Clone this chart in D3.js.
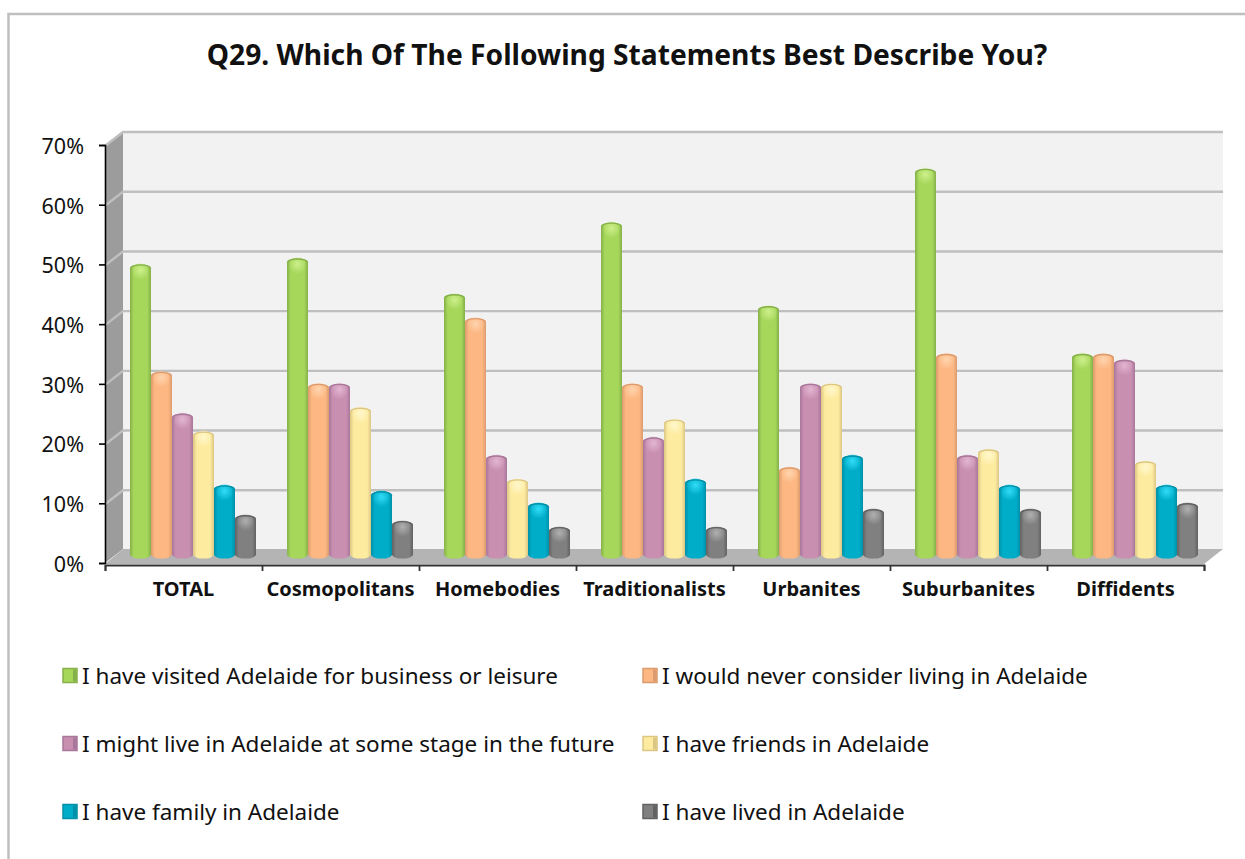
<!DOCTYPE html>
<html><head><meta charset="utf-8">
<script src="https://cdnjs.cloudflare.com/ajax/libs/d3/7.8.5/d3.min.js"></script>
<style>html,body{margin:0;padding:0;background:#fff;overflow:hidden}svg{display:block}text{font-family:"Noto Sans","Open Sans",sans-serif;fill:#111}</style>
</head><body><svg id="c" width="1245" height="859"></svg>
<script>
const titleText = "Q29. Which Of The Following Statements Best Describe You?";
const categories = ["TOTAL","Cosmopolitans","Homebodies","Traditionalists","Urbanites","Suburbanites","Diffidents"];
const seriesNames = ["I have visited Adelaide for business or leisure","I would never consider living in Adelaide","I might live in Adelaide at some stage in the future","I have friends in Adelaide","I have family in Adelaide","I have lived in Adelaide"];
const visited = [49,50,44,56,42,65,34];
const neverLive = [31,29,40,29,15,34,34];
const mightLive = [24,29,17,20,29,17,33];
const friends = [21,25,13,23,29,18,16];
const family = [12,11,9,13,17,12,12];
const lived = [7,6,5,5,8,8,9];
const seriesValues = [visited,neverLive,mightLive,friends,family,lived];
const colours = ["#a6d75b","#fdb782","#c98fb1","#fdeba0","#00adc9","#808080"];
const edgeColours = ["#86b04a","#dc9b6e","#a8779a","#dcc684","#0090a8","#626262"];
const capColours = ["#cdf08c","#ffd4ae","#e2b6d2","#fff8cc","#30dcf6","#b0b0b0"];
const yTicks = [0,10,20,30,40,50,60,70];

const svg = d3.select("#c");
const L=105,R=1204,T=145,B=563,DX=18,DY=-14;
const y = d3.scaleLinear().domain([0,70]).range([B,T]);
const xGroup = d3.scaleBand().domain(categories).range([L,R]);
const xEdge = d3.scaleLinear().domain([0,categories.length]).range([L,R]);
const xBar = d3.scaleBand().domain(d3.range(6)).range([0,126]);
const defs = svg.append("defs");

colours.forEach((c,i)=>{
  const g=defs.append("linearGradient").attr("id","g"+i);
  [[0,edgeColours[i]],[.18,c],[.82,c],[1,edgeColours[i]]].forEach(s=>g.append("stop").attr("offset",s[0]).attr("stop-color",s[1]));
  const h=defs.append("radialGradient").attr("id","h"+i).attr("cx",.5).attr("cy",.4).attr("r",.55);
  h.append("stop").attr("offset",0).attr("stop-color",capColours[i]).attr("stop-opacity",1);
  h.append("stop").attr("offset",1).attr("stop-color",capColours[i]).attr("stop-opacity",0);
});

// frame
svg.append("path").attr("d","M8.5,859V14H1245").attr("fill","none").attr("stroke","#bfbfbf").attr("stroke-width",2.5);

// title
svg.append("text").attr("x",627).attr("y",65).attr("text-anchor","middle").attr("font-size",28.2).attr("font-weight",700).text(titleText);

// walls
svg.append("path").attr("d",`M${L},${y(70)}L${L+DX},${y(70)+DY}H${R+DX+1}V${y(0)+DY}H${L+DX}L${L},${y(0)}Z`).attr("fill","#f2f2f2");
svg.append("path").attr("d",`M${L},${y(70)}L${L+DX},${y(70)+DY}V${y(0)+DY}L${L},${y(0)}Z`).attr("fill","#9c9c9c");
svg.append("path").attr("d",`M${L},${y(0)+1}L${L+DX},${y(0)+DY}H${R+DX+1}L${R},${y(0)+1}Z`).attr("fill","#b4b4b4");

// gridlines
svg.append("g").selectAll("path").data(yTicks.slice(1)).join("path")
  .attr("d",d=>`M${L},${y(d)+1}L${L+DX},${y(d)+DY+1}H${R+DX+1}`)
  .attr("fill","none").attr("stroke","#bfbfbf").attr("stroke-width",2.4);

// bars
const ry=4, baseY=y(0)+DY/2;
const gs=svg.append("g").selectAll("g").data(categories).join("g")
  .attr("transform",d=>`translate(${xGroup(d)+(xGroup.bandwidth()-126)/2+DX/2+.5},0)`);
seriesValues.forEach((vals,i)=>{
  const w=xBar.bandwidth();
  const top=(c)=>y(vals[categories.indexOf(c)])+DY/2+3.5;
  gs.append("path")
    .attr("d",c=>`M${xBar(i)},${top(c)+1.4}A${w/2},${ry} 0 0 1 ${xBar(i)+w},${top(c)+1.4}V${baseY-1.4}A${w/2},${ry} 0 0 1 ${xBar(i)},${baseY-1.4}Z`)
    .attr("fill",`url(#g${i})`);
  gs.append("ellipse")
    .attr("cx",xBar(i)+w/2).attr("cy",c=>top(c)+5).attr("rx",w/2-2).attr("ry",9)
    .attr("fill",`url(#h${i})`);
  gs.append("path")
    .attr("d",c=>`M${xBar(i)+.7},${top(c)+1.4}A${w/2-.7},${ry-.6} 0 0 1 ${xBar(i)+w-.7},${top(c)+1.4}`)
    .attr("fill","none").attr("stroke",edgeColours[i]).attr("stroke-width",1.4);
});

// y axis
const yAxis=svg.append("g").attr("transform",`translate(${L},0)`)
  .call(d3.axisLeft(y).tickValues(yTicks).tickFormat(d=>d+"%").tickSize(6).tickPadding(15));
yAxis.selectAll("path,line").attr("stroke","#000").attr("stroke-width",1.6);
yAxis.attr("font-family",null);
yAxis.selectAll("text").attr("font-size",21.5).attr("y",1.5);

// x axis
const xAxis=svg.append("g").attr("transform",`translate(0,${B+2})`)
  .call(d3.axisBottom(xEdge).tickValues(d3.range(categories.length+1)).tickFormat("").tickSize(6));
xAxis.selectAll("path,line").attr("stroke","#333").attr("stroke-width",1.8);
const xLabels=svg.append("g").attr("transform",`translate(0,${B+2})`)
  .call(d3.axisBottom(xGroup).tickSize(0).tickPadding(17));
xLabels.select("path").remove();
xLabels.attr("font-family",null);
xLabels.selectAll("text").attr("font-size",20).attr("font-weight",700);

// legend
const lx=[62,642], ly=[676,744,812];
const leg=svg.append("g").selectAll("g").data(seriesNames).join("g")
  .attr("transform",(d,i)=>`translate(${lx[i%2]},${ly[Math.floor(i/2)]})`);
leg.append("rect").attr("x",1).attr("y",-7.5).attr("width",14).attr("height",14)
  .attr("fill",(d,i)=>colours[i]).attr("stroke",(d,i)=>edgeColours[i]).attr("stroke-width",1.5);
leg.append("rect").attr("x",11).attr("y",-6.5).attr("width",3.5).attr("height",12)
  .attr("fill",(d,i)=>edgeColours[i]);
leg.append("text").attr("x",20).attr("y",8).attr("font-size",22.5).text(d=>d);
</script></body></html>
